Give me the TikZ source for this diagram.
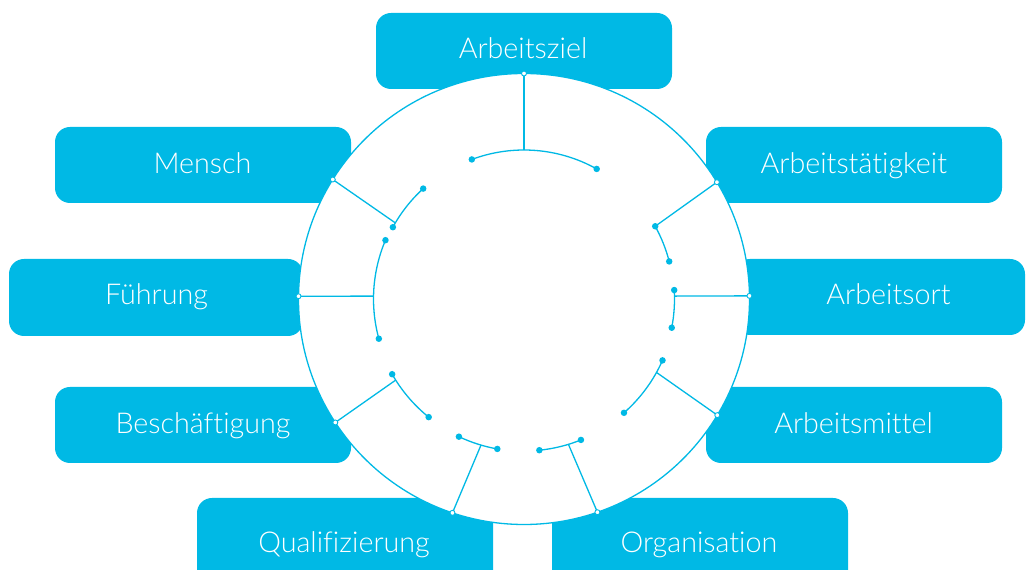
\documentclass[tikz,border=0pt]{standalone}
\usepackage{fontspec}
\newfontfamily\lblfont{Lato Light}[Ligatures=NoCommon]
\usetikzlibrary{calc}
\definecolor{brand}{RGB}{0,185,229}
\begin{document}
\begin{tikzpicture}[x=1pt,y=1pt,
  box/.style={fill=brand, rounded corners=15pt, minimum width=296pt, minimum height=76pt, inner sep=0pt},
  lbl/.style={text=white, font=\lblfont\fontsize{28.7}{28.7}\selectfont, anchor=base, inner sep=0pt},
  ring/.style={circle, draw=brand, line width=1.3pt, fill=white, inner sep=0pt, minimum size=451pt},
  conn/.style={draw=brand, line width=1.3pt},
  fdot/.style={circle, fill=brand, inner sep=0pt, minimum size=6.5pt},
  odot/.style={circle, fill=white, draw=brand, line width=0.9pt, inner sep=0pt, minimum size=5pt}]
\useasboundingbox (0,0) rectangle (1026,570);
\clip (0,0) rectangle (1026,570);
% boxes
\node[box] (bziel) at (524,519) {};
\node[box] (bmensch) at (203,405) {};
\node[box] (btaet) at (854,405) {};
\node[box, minimum width=294pt, minimum height=77pt] (bfuehr) at (156,272.5) {};
\node[box, minimum width=290pt] (bort) at (880,273) {};
\node[box] (bbesch) at (203,145) {};
\node[box] (bmittel) at (854,145) {};
\node[box, minimum height=92pt] (bquali) at (345,26) {};
\node[box, minimum height=92pt] (borga) at (700,26) {};
% labels
\node[lbl] (tziel) at (523,511.7) {Arbeitsziel};
\node[lbl] (tmensch) at (202.5,396.7) {Mensch};
\node[lbl] (ttaet) at (853.8,396.7) {Arbeitstätigkeit};
\node[lbl] (tfuehr) at (156.5,265) {Führung};
\node[lbl] (tort) at (888.5,265) {Arbeitsort};
\node[lbl] (tbesch) at (203,136.7) {Beschäftigung};
\node[lbl] (tmittel) at (853.5,136.7) {Arbeitsmittel};
\node[lbl] (tquali) at (344,17.7) {Qualifizierung};
\node[lbl] (torga) at (699,17.7) {Organisation};
% ring
\coordinate (C) at (524,271);
\node[ring] (ring) at (C) {};
% spokes and inner arcs
\foreach \n/\a/\b/\s/\e/\rr in {
  ziel/90/90/60.8/110.5/149,
  taet/31.2/29/14.5/29/150,
  ort/0.8/1.1/-11/3.4/150.5,
  mittel/-31/-29/-48.7/-23.9/151.5,
  orga/-71/-73/-84.2/-68/152,
  quali/251.5/253.6/244.7/259.9/152.3,
  besch/213.2/212.3/209.7/231.1/151.8,
  fuehr/179.3/178.9/157/195.3/150.5,
  mensch/148/149.4/132.4/151.3/149.5}{
  \coordinate (o\n) at ($(C)+(\a:225.5)$);
  \coordinate (j\n) at ($(C)+(\b:\rr)$);
  \coordinate (s\n) at ($(C)+(\s:\rr)$);
  \coordinate (e\n) at ($(C)+(\e:\rr)$);
  \draw[conn] (s\n) arc[start angle=\s, end angle=\e, radius=\rr];
  \draw[conn] (o\n) -- (j\n);
  \node[fdot] (ds\n) at (s\n) {};
  \node[fdot] (de\n) at (e\n) {};
  \node[odot] (do\n) at (o\n) {};
}
\end{tikzpicture}
\end{document}
